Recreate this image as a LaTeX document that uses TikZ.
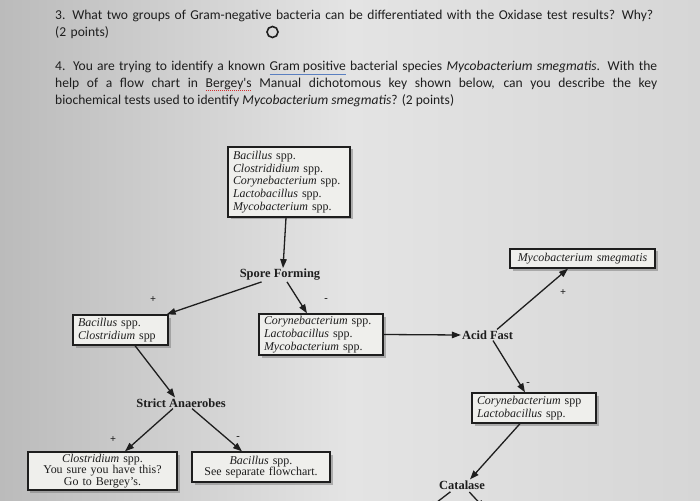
\documentclass[tikz,border=0pt]{standalone}
\usepackage{fontspec}
\usetikzlibrary{arrows.meta, shadows}
\setmainfont{Liberation Serif}
\newfontfamily\qfont{Carlito}
\definecolor{ink}{HTML}{1E1E1E}
\definecolor{bgleft}{HTML}{BBBBBB}
\definecolor{bgmid}{HTML}{E4E4E4}
\definecolor{bgright}{HTML}{D6D6D6}
\definecolor{boxfill}{HTML}{EFEFEC}
\definecolor{gramblue}{HTML}{5A7FC0}
\definecolor{spellred}{HTML}{D03030}

% word-processor marks under the question text
\newcommand\gramline[1]{\textcolor{gramblue}{\underline{\textcolor{ink}{#1}}}}
\newcommand\spellwave[1]{\leavevmode\setbox0\hbox{#1}%
  \rlap{\raisebox{-3pt}{\hbox to \wd0{\leaders\hbox to 2pt{\hss\textcolor{spellred}{\rule{1pt}{0.7pt}}\hss}\hfill}}}\box0\relax}

\begin{document}
\begin{tikzpicture}[x=1bp, y=-1bp,
  flow/.style={draw=ink, line width=1.3bp, -{Triangle[length=9bp, width=6.5bp]}},
  taxbox/.style={draw=ink, line width=1.3bp, fill=boxfill, text=ink, inner xsep=5bp, inner ysep=1bp,
    drop shadow={opacity=0.55, shadow xshift=2.5bp, shadow yshift=-2.5bp},
    font=\fontsize{12}{12.8}\selectfont},
  testlbl/.style={text=ink, inner sep=1bp, font=\fontsize{12.5}{13}\selectfont\bfseries},
  sign/.style={text=ink, inner sep=0pt, font=\fontsize{10.5}{10.5}\selectfont\bfseries},
  question/.style={anchor=north west, inner sep=0pt, text width=602bp, text=ink,
    font=\qfont\fontsize{13.6}{17}\selectfont}]

% Background -- photo of a screen, darker on the left
\useasboundingbox (0,0) rectangle (700,501);
\clip (0,0) rectangle (700,501);
\shade[left color=bgleft, right color=bgright, middle color=bgmid] (0,0) rectangle (700,501);

% Questions
\node[question, align=left] (q3) at (55,10)
  {3. What two groups of Gram-negative bacteria can be differentiated with the Oxidase test results? Why?\\
   (2 points)};
\node[draw=ink, circle, line width=1.6bp, minimum size=11bp, inner sep=0pt] (mark) at (272.5,32) {};
\node[question, align=justify] (q4) at (55,61)
  {4. You are trying to identify a known \gramline{Gram positive} bacterial species \textit{Mycobacterium smegmatis}. With the\linebreak
   help of a flow chart in \spellwave{Bergey's} Manual dichotomous key shown below, can you describe the key\linebreak
   biochemical tests used to identify \textit{Mycobacterium smegmatis}? (2 points)};

% Starting group
\node[taxbox, text width=112bp, minimum height=70bp, align=left] (allgp) at (289,182)
  {\textit{Bacillus} spp.\\ \textit{Clostrididium} spp.\\ \textit{Corynebacterium} spp.\\
   \textit{Lactobacillus} spp.\\ \textit{Mycobacterium} spp.};

% Tests
\node[testlbl] (spore) at (280,275) {Spore Forming};
\node[testlbl] (acid) at (487.5,335) {Acid Fast};
\node[testlbl] (anaer) at (181,403) {Strict Anaerobes};
\node[testlbl] (catal) at (462,485) {Catalase};

% Result groups
\node[taxbox, text width=85bp, minimum height=30bp, align=left] (bacclo) at (120.5,330)
  {\textit{Bacillus} spp.\\ \textit{Clostridium} spp};
\node[taxbox, text width=114bp, minimum height=41bp, align=left] (clm) at (321,334.5)
  {\textit{Corynebacterium} spp.\\ \textit{Lactobacillus} spp.\\ \textit{Mycobacterium} spp.};
\node[taxbox, text width=135bp, minimum height=19bp, align=center] (msmeg) at (582.5,258.5)
  {\textit{Mycobacterium smegmatis}};
\node[taxbox, text width=114bp, minimum height=30bp, align=left] (corlac) at (534,408)
  {\textit{Corynebacterium} spp\\ \textit{Lactobacillus} spp.};
\node[taxbox, text width=139bp, minimum height=38bp, align=center, font=\fontsize{12}{11.6}\selectfont] (clost) at (102.5,471)
  {\textit{Clostridium} spp.\\ You sure you have this?\\ Go to Bergey's.};
\node[taxbox, text width=128bp, minimum height=30bp, align=center, font=\fontsize{12}{11.6}\selectfont] (bacil) at (261,467)
  {\textit{Bacillus} spp.\\ See separate flowchart.};

% Connectors
\draw[flow] ([xshift=-3bp]allgp.south) -- ([xshift=3bp]spore.north);
\draw[flow] ([xshift=23bp]spore.south west) -- ([xshift=-2bp]bacclo.north east);
\draw[flow] ([xshift=7bp]spore.south) -- ([xshift=-14bp]clm.north);
\draw[flow] (clm.east) -- (acid.west);
\draw[flow] ([xshift=9.5bp]acid.north) -- ([xshift=-14.5bp]msmeg.south);
\draw[flow] ([xshift=5.5bp]acid.south) -- ([xshift=-9bp]corlac.north);
\draw[flow] ([xshift=-14bp]corlac.south) -- ([xshift=8bp]catal.north);
\draw[flow] ([xshift=14.5bp]bacclo.south) -- ([xshift=-6bp]anaer.north);
\draw[flow] ([xshift=-8bp]anaer.south) -- ([xshift=22.5bp]clost.north);
\draw[flow] ([xshift=11bp]anaer.south) -- ([xshift=-19bp]bacil.north);

% Catalase branches, cut off by the photo edge
\coordinate (catL) at (428,509);
\coordinate (catR) at (485,509);
\draw[flow, shorten <=2bp] ([xshift=-10bp]catal.south) -- (catL);
\draw[flow, shorten <=2bp] ([xshift=6bp]catal.south) -- (catR);

% Test outcomes
\node[sign] (sporeplus) at (153,300) {+};
\node[sign] (sporeminus) at (326,300) {-};
\node[sign] (acidplus) at (563,293) {+};
\node[sign] (acidminus) at (528,384) {-};
\node[sign] (anaerplus) at (113,440) {+};
\node[sign] (anaerminus) at (238,438) {-};

\end{tikzpicture}
\end{document}
